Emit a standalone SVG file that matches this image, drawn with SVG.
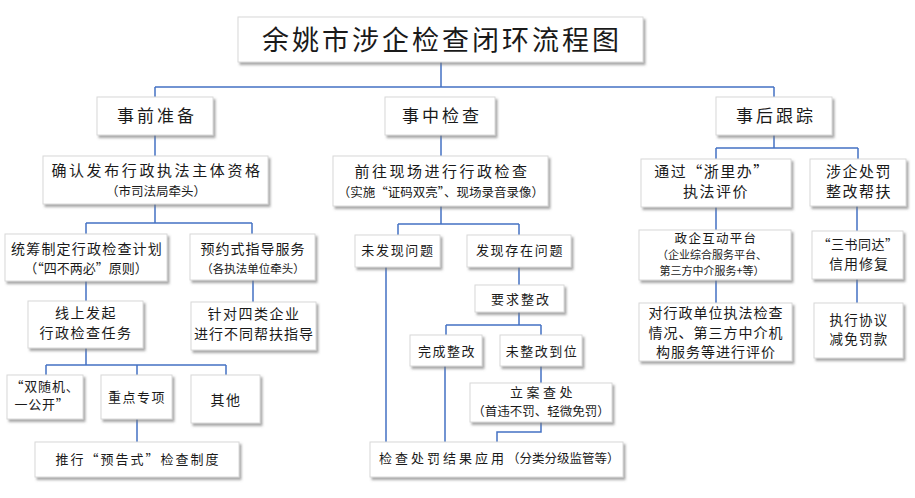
<svg xmlns="http://www.w3.org/2000/svg" width="915" height="498" viewBox="0 0 915 498">
<defs>
<filter id="sh" x="-10%" y="-10%" width="125%" height="140%">
<feDropShadow dx="2" dy="2.5" stdDeviation="1.2" flood-color="#777" flood-opacity="0.65"/>
</filter>
<style>
rect{fill:#fff;stroke:#d8d8d8;stroke-width:1;filter:url(#sh)}
text{font-family:"Noto Sans CJK SC",sans-serif;fill:#1a1a1a;text-anchor:middle}
.t{font-size:27px;letter-spacing:3px}
.h{font-size:17px;letter-spacing:3px}
.k{font-size:14px;letter-spacing:1.5px}
.s{font-size:12.5px}
.c path{fill:none;stroke:#4472C4;stroke-width:1.5}
</style>
</defs>
<rect width="915" height="498" style="fill:#fff;stroke:none;filter:none"/>
<g class="c" id="connectors">
<path d="M441 62V87M155 87H774M155 87V97M774 87V97"/>
<path d="M155 135V156M155 204V223M86 223H252M86 223V234M252 223V234"/>
<path d="M86 281V301M253 280V302"/>
<path d="M86 348V365M46 365H226M46 365V375M137 365V375M226 365V375M137 419V442"/>
<path d="M441 135V156M441 206V224M398 224H519M398 224V235M519 224V235"/>
<path d="M519 267V285M519 312V325M446 325H541M446 325V335M541 325V335"/>
<path d="M541 366V383M541 422V432H497V442M445 366V442M386 267V442"/>
<path d="M774 135V148M716 148H858M716 148V159M858 148V159"/>
<path d="M716 207V230M716 280V303M857 206V231M857 279V303"/>
</g>
<g id="title"><rect x="238" y="17" width="405" height="45"/><text class="t" x="442" y="50">余姚市涉企检查闭环流程图</text></g>
<g id="pre"><rect x="97" y="97" width="116" height="38"/><text class="h" x="157" y="122">事前准备</text></g>
<g id="mid"><rect x="385" y="97" width="110" height="38"/><text class="h" x="442" y="122">事中检查</text></g>
<g id="post"><rect x="716" y="97" width="116" height="38"/><text class="h" x="776" y="122">事后跟踪</text></g>

<g id="confirm"><rect x="43" y="156" width="225" height="48"/><text class="k" x="157" y="176" style="font-size:15px;letter-spacing:2.6px">确认发布行政执法主体资格</text><text class="s" x="156" y="196">（市司法局牵头）</text></g>
<g id="plan"><rect x="5" y="234" width="162" height="47"/><text class="k" x="87" y="254" style="letter-spacing:1.2px">统筹制定行政检查计划</text><text class="s" x="86" y="273" style="font-size:13px">（“四不两必”原则）</text></g>
<g id="appt"><rect x="190" y="234" width="125" height="46"/><text class="k" x="253" y="254" style="letter-spacing:1px">预约式指导服务</text><text class="s" x="253" y="273" style="font-size:11.5px">（各执法单位牵头）</text></g>
<g id="online"><rect x="28" y="301" width="115" height="47"/><text class="k" x="86" y="318">线上发起</text><text class="k" x="86" y="338">行政检查任务</text></g>
<g id="target"><rect x="191" y="302" width="125" height="48"/><text class="k" x="254" y="319" style="letter-spacing:1.5px">针对四类企业</text><text class="k" x="254" y="339" style="letter-spacing:1px">进行不同帮扶指导</text></g>
<g id="random"><rect x="7" y="375" width="76" height="44"/><text class="k" x="45" y="391" style="font-size:13px;letter-spacing:0.8px">“双随机、</text><text class="k" x="42" y="409" style="font-size:13px;letter-spacing:0.8px">一公开”</text></g>
<g id="key"><rect x="101" y="375" width="71" height="44"/><text class="k" x="137" y="402" style="font-size:13px;letter-spacing:1.5px">重点专项</text></g>
<g id="other"><rect x="191" y="375" width="69" height="48"/><text class="k" x="226" y="405">其他</text></g>
<g id="notice"><rect x="35" y="442" width="204" height="35"/><text class="k" x="138" y="464" style="font-size:13px;letter-spacing:2px">推行“预告式”检查制度</text></g>

<g id="goto"><rect x="333" y="156" width="215" height="50"/><text class="k" x="442" y="177" style="font-size:15px;letter-spacing:2.5px">前往现场进行行政检查</text><text class="s" x="441" y="197">（实施“证码双亮”、现场录音录像）</text></g>
<g id="nofind"><rect x="355" y="235" width="85" height="32"/><text class="k" x="398" y="255" style="font-size:13px;letter-spacing:1.7px">未发现问题</text></g>
<g id="find"><rect x="467" y="235" width="104" height="32"/><text class="k" x="520" y="255" style="font-size:13px;letter-spacing:1.7px">发现存在问题</text></g>
<g id="require"><rect x="475" y="285" width="89" height="27"/><text class="k" x="521" y="304" style="font-size:13px;letter-spacing:2px">要求整改</text></g>
<g id="done"><rect x="410" y="335" width="72" height="31"/><text class="k" x="447" y="356" style="font-size:13px;letter-spacing:1.5px">完成整改</text></g>
<g id="notdone"><rect x="500" y="335" width="82" height="31"/><text class="k" x="542" y="356" style="font-size:13px;letter-spacing:1.5px">未整改到位</text></g>
<g id="case"><rect x="470" y="383" width="142" height="39"/><text class="k" x="543" y="397" style="font-size:13px;letter-spacing:3.5px">立案查处</text><text class="s" x="541" y="416">（首违不罚、轻微免罚）</text></g>
<g id="result"><rect x="370" y="442" width="253" height="35"/><text x="379" y="463" style="text-anchor:start"><tspan style="font-size:13px;letter-spacing:3px">检查处罚结果应用</tspan><tspan style="font-size:12.5px">（分类分级监管等）</tspan></text></g>

<g id="eval"><rect x="641" y="159" width="150" height="48"/><text class="k" x="712" y="177" style="font-size:15px;letter-spacing:1.5px">通过“浙里办”</text><text class="k" x="716" y="197" style="font-size:15px;letter-spacing:1.5px">执法评价</text></g>
<g id="penalty"><rect x="810" y="159" width="96" height="47"/><text class="k" x="859" y="177" style="font-size:15px;letter-spacing:1.5px">涉企处罚</text><text class="k" x="859" y="197" style="font-size:15px;letter-spacing:1.5px">整改帮扶</text></g>
<g id="platform"><rect x="639" y="230" width="152" height="50"/><text class="k" x="716" y="243" style="font-size:12.5px;letter-spacing:1.3px">政企互动平台</text><text class="s" x="712" y="259" style="font-size:11px">（企业综合服务平台、</text><text class="s" x="712" y="275" style="font-size:11px">第三方中介服务+等）</text></g>
<g id="evaluate"><rect x="639" y="303" width="153" height="58"/><text class="k" x="716" y="318" style="letter-spacing:1px">对行政单位执法检查</text><text class="k" x="716" y="338" style="letter-spacing:1px">情况、第三方中介机</text><text class="k" x="716" y="357" style="letter-spacing:1px">构服务等进行评价</text></g>
<g id="three"><rect x="812" y="231" width="91" height="48"/><text class="k" x="858" y="249" style="font-size:13px;letter-spacing:0.5px">“三书同达”</text><text class="k" x="859" y="269" style="letter-spacing:1px">信用修复</text></g>
<g id="exec"><rect x="814" y="303" width="89" height="55"/><text class="k" x="859" y="325" style="font-size:13.5px;letter-spacing:1.3px">执行协议</text><text class="k" x="859" y="344" style="font-size:13.5px;letter-spacing:1.3px">减免罚款</text></g>
</svg>
